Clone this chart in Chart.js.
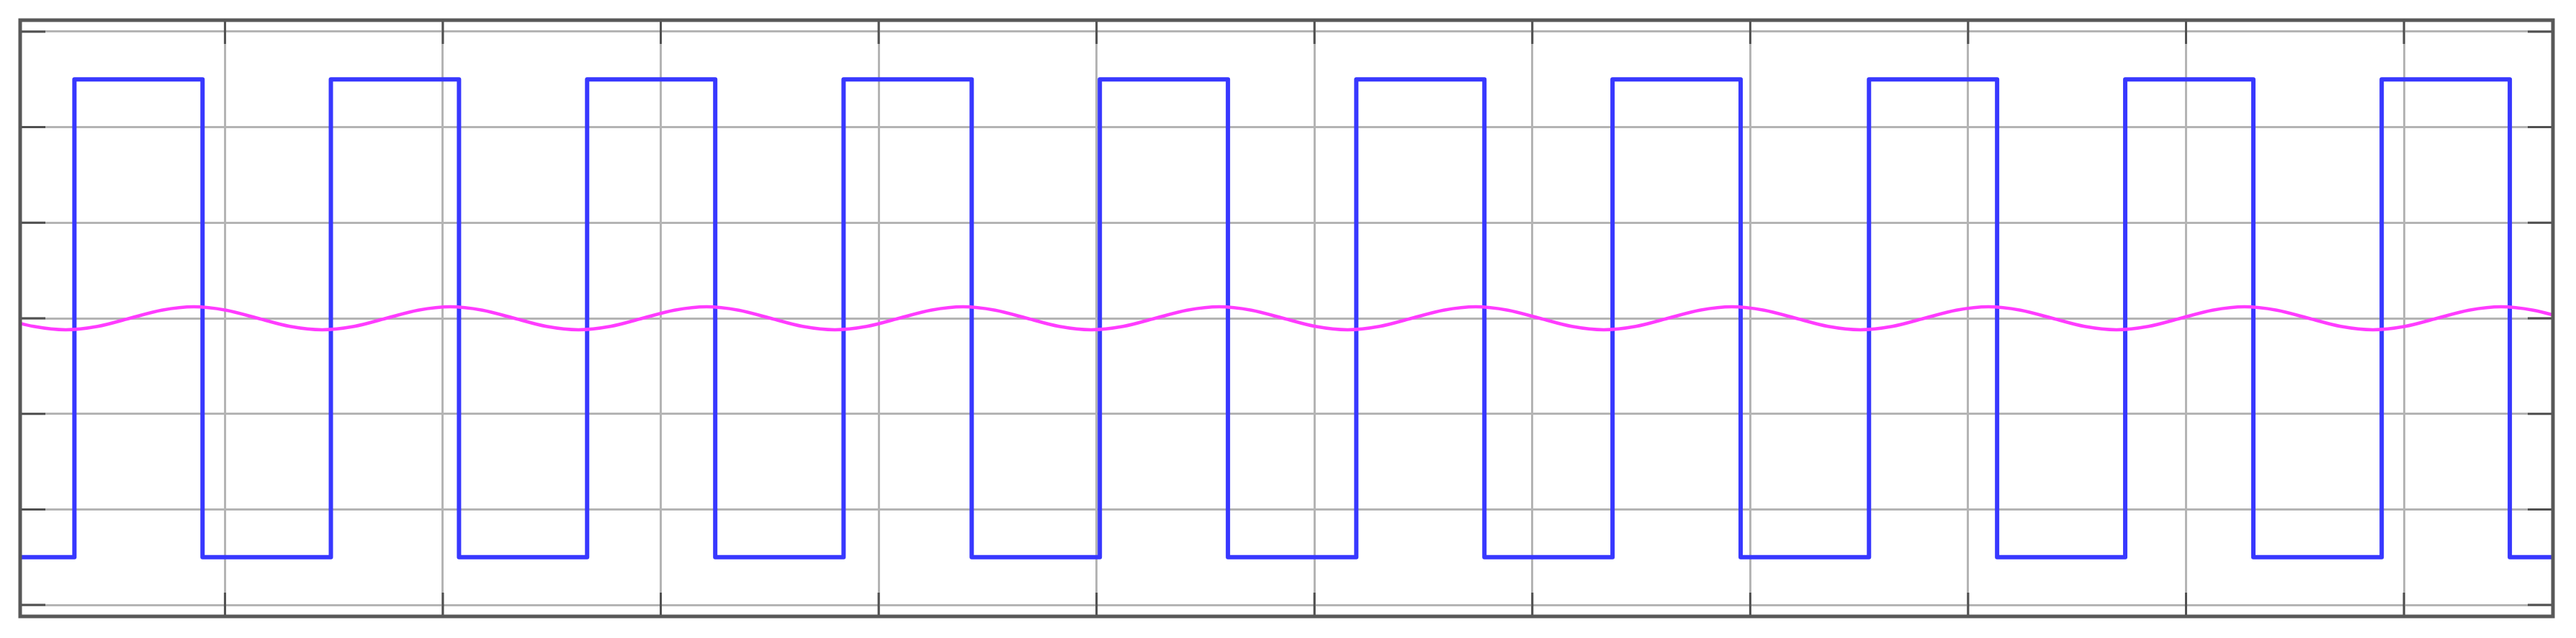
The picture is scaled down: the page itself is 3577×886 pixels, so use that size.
<!DOCTYPE html>
<html>
<head>
<meta charset="utf-8">
<script src="https://cdn.jsdelivr.net/npm/chart.js@4/dist/chart.umd.min.js"></script>
<style>
  html, body { margin: 0; padding: 0; background: #fff; }
  #wrap { width: 3577px; height: 886px; }
</style>
</head>
<body>
<div id="wrap"><canvas id="scope"></canvas></div>
<script>
// x in grid divisions, y in volts-ish divisions
const xTicks = [0, 1, 2, 3, 4, 5, 6, 7, 8, 9, 10];
const yTicks = [-3, -2, -1, 0, 1, 2, 3];

// square wave (blue): edge times and levels
const squareX = [-1, -0.691, -0.691, -0.103, -0.103, 0.486, 0.486, 1.074, 1.074,
  1.662, 1.662, 2.250, 2.250, 2.839, 2.839, 3.427, 3.427, 4.015, 4.015, 4.603, 4.603,
  5.192, 5.192, 5.780, 5.780, 6.368, 6.368, 6.956, 6.956, 7.545, 7.545, 8.133, 8.133,
  8.721, 8.721, 9.309, 9.309, 9.898, 9.898, 10.486, 10.486, 10.8];
const squareY = [-2.5,
  -2.5, 2.5, 2.5, -2.5, -2.5, 2.5, 2.5, -2.5, -2.5, 2.5, 2.5, -2.5,
  -2.5, 2.5, 2.5, -2.5, -2.5, 2.5, 2.5, -2.5, -2.5, 2.5, 2.5, -2.5,
  -2.5, 2.5, 2.5, -2.5, -2.5, 2.5, 2.5, -2.5, -2.5, 2.5, 2.5, -2.5,
  -2.5, 2.5, 2.5, -2.5,
  -2.5];

// small ripple (magenta)
const rippleX = [-1.025, -0.878, -0.731, -0.584, -0.437, -0.290, -0.143, 0.004,
  0.151, 0.298, 0.446, 0.593, 0.740, 0.887, 1.034, 1.181, 1.328, 1.475,
  1.622, 1.769, 1.916, 2.063, 2.210, 2.357, 2.504, 2.651,
  2.799, 2.946, 3.093, 3.240, 3.387, 3.534, 3.681, 3.828,
  3.975, 4.122, 4.269, 4.416, 4.563, 4.710, 4.857, 5.004,
  5.152, 5.299, 5.446, 5.593, 5.740, 5.887, 6.034, 6.181,
  6.328, 6.475, 6.622, 6.769, 6.916, 7.063, 7.210, 7.357,
  7.505, 7.652, 7.799, 7.946, 8.093, 8.240, 8.387, 8.534,
  8.681, 8.828, 8.975, 9.122, 9.269, 9.416, 9.563, 9.710,
  9.858, 10.005, 10.152, 10.299, 10.446, 10.593, 10.740];
const rippleY = [0, -0.085,
  -0.12, -0.085, 0, 0.085, 0.12, 0.085, 0, -0.085,
  -0.12, -0.085, 0, 0.085, 0.12, 0.085, 0, -0.085,
  -0.12, -0.085, 0, 0.085, 0.12, 0.085, 0, -0.085,
  -0.12, -0.085, 0, 0.085, 0.12, 0.085, 0, -0.085,
  -0.12, -0.085, 0, 0.085, 0.12, 0.085, 0, -0.085,
  -0.12, -0.085, 0, 0.085, 0.12, 0.085, 0, -0.085,
  -0.12, -0.085, 0, 0.085, 0.12, 0.085, 0, -0.085,
  -0.12, -0.085, 0, 0.085, 0.12, 0.085, 0, -0.085,
  -0.12, -0.085, 0, 0.085, 0.12, 0.085, 0, -0.085,
  -0.12, -0.085, 0, 0.085, 0.12, 0.085, 0];

const toPoints = (xs, ys) => xs.map((x, i) => ({ x: x, y: ys[i] }));

// dark frame + short tick marks on the inside of each edge
const scopeFrame = {
  id: 'scopeFrame',
  afterDatasetsDraw(chart) {
    const ctx = chart.ctx;
    const a = chart.chartArea;
    const xs = chart.scales.x, ys = chart.scales.y;
    ctx.save();
    ctx.strokeStyle = '#505050';
    ctx.lineWidth = 3;
    xTicks.forEach(v => {
      const px = xs.getPixelForValue(v);
      ctx.beginPath();
      ctx.moveTo(px, a.top); ctx.lineTo(px, a.top + 33);
      ctx.moveTo(px, a.bottom); ctx.lineTo(px, a.bottom - 33);
      ctx.stroke();
    });
    yTicks.forEach(v => {
      const py = ys.getPixelForValue(v);
      ctx.beginPath();
      ctx.moveTo(a.left, py); ctx.lineTo(a.left + 35, py);
      ctx.moveTo(a.right, py); ctx.lineTo(a.right - 35, py);
      ctx.stroke();
    });
    ctx.strokeStyle = '#585858';
    ctx.lineWidth = 5;
    ctx.strokeRect(a.left, a.top, a.right - a.left, a.bottom - a.top);
    ctx.restore();
  }
};

new Chart(document.getElementById('scope'), {
  type: 'scatter',
  data: {
    datasets: [
      {
        label: 'square',
        data: toPoints(squareX, squareY),
        showLine: true,
        borderColor: '#3838ff',
        borderWidth: 6,
        borderJoinStyle: 'round',
        pointRadius: 0,
        tension: 0,
        clip: 0,
        order: 2
      },
      {
        label: 'ripple',
        data: toPoints(rippleX, rippleY),
        showLine: true,
        borderColor: '#ff3cff',
        borderWidth: 4.5,
        pointRadius: 0,
        cubicInterpolationMode: 'monotone',
        clip: 0,
        order: 1
      }
    ]
  },
  options: {
    responsive: true,
    maintainAspectRatio: false,
    animation: false,
    layout: { padding: { left: 28, top: 28, right: 32, bottom: 30 } },
    plugins: {
      legend: { display: false },
      tooltip: { enabled: false }
    },
    scales: {
      x: {
        type: 'linear',
        min: -0.94,
        max: 10.684,
        afterBuildTicks: axis => { axis.ticks = xTicks.map(v => ({ value: v })); },
        ticks: { display: false },
        grid: { color: '#b4b4b4', lineWidth: 3, drawTicks: false },
        border: { display: false }
      },
      y: {
        min: -3.12,
        max: 3.12,
        afterBuildTicks: axis => { axis.ticks = yTicks.map(v => ({ value: v })); },
        ticks: { display: false },
        grid: { color: '#b4b4b4', lineWidth: 3, drawTicks: false },
        border: { display: false }
      }
    }
  },
  plugins: [scopeFrame]
});
</script>
</body>
</html>
